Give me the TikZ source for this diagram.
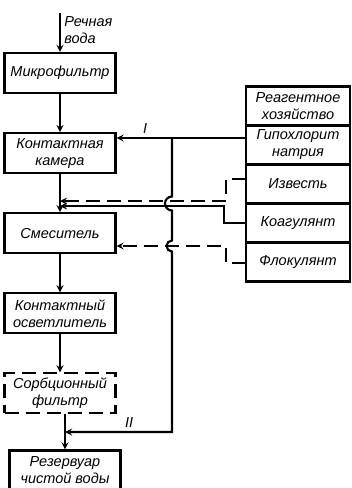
\documentclass[tikz,border=0pt]{standalone}
\usepackage{fontspec}
\setmainfont{Liberation Sans}
\usetikzlibrary{positioning}

\begin{document}
\begin{tikzpicture}[x=1pt,y=-1pt,-,>=stealth,line width=2.1pt,node distance=38pt,font=\itshape\fontsize{14.5}{17}\selectfont,
    main node/.style={draw,minimum width=111pt,minimum height=40pt,align=center,inner sep=1pt},
    reagent node/.style={main node,minimum width=104pt,minimum height=39pt,outer sep=0pt},
    feed line/.style={dash pattern=on 14pt off 7pt}]
    \useasboundingbox (0,0) rectangle (352,488);

    \node[main node] (1) at (60,73) {Микрофильтр};
    \node[main node] (2) [below=of 1] {Контактная\\камера};
    \node[main node] (3) [below=of 2] {Смеситель};
    \node[main node] (4) [below=of 3] {Контактный\\осветлитель};
    \node[main node,dash pattern=on 14pt off 7pt] (5) [below=of 4] {Сорбционный\\фильтр};
    \node[main node] (6) [below=35pt of 5,xshift=5pt] {Резервуар\\чистой воды};

    \node[reagent node] (r0) at (298,106) {Реагентное\\хозяйство};
    \node[reagent node] (r1) [below=0pt of r0] {Гипохлорит\\натрия};
    \node[reagent node] (r2) [below=0pt of r1] {Известь};
    \node[reagent node] (r3) [below=0pt of r2] {Коагулянт};
    \node[reagent node] (r4) [below=0pt of r3] {Флокулянт};

    \coordinate (src) at (60,13);
    \coordinate (tap) at (172,138);
    \coordinate (ret) at (172,432);

    \draw[->] (src) -- (1.north) node[pos=0.45,right,align=left] {Речная\\вода};
    \draw[->] (1) -- (2);
    \draw[->] (2) -- (3);
    \draw[->] (3) -- (4);
    \draw[->] (4) -- (5);
    \draw[->] (5.south -| 6.north) -- (6);

    \draw[->] (r1.west |- tap) -- (2.east |- tap) node[pos=0.78,above] {I};
    \draw[->] (tap) -- (172,196.5) arc[start angle=90,end angle=270,radius=7pt]
        -- (172,240.5) arc[start angle=90,end angle=270,radius=5.5pt]
        -- (ret) -- (ret -| 6.north) node[pos=0.4,above] {II};

    \draw[->,feed line] ([yshift=5pt]r2.west) -- ++(-20,0) |- (2.south |- 0,201);
    \draw[->] (r3.west) -- ++(-22,0) |- (2.south |- 0,206);
    \draw[->,feed line] ([yshift=-1pt]r4.west) -- ++(-20,0) |- (3.east |- 0,246);
\end{tikzpicture}
\end{document}
